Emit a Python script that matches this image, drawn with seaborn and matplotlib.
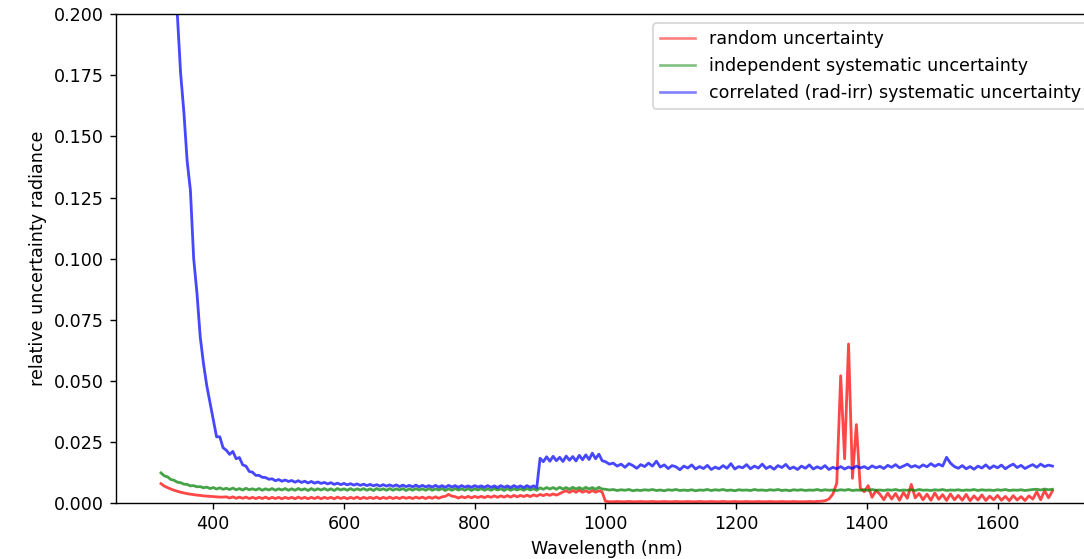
import numpy as np
import pandas as pd
import matplotlib
matplotlib.use('Agg')
import matplotlib.pyplot as plt
import seaborn as sns

# --- Configuration ---
OUTPUT_FILE = 'out.png'
DPI = 126

# --- Wavelength grids (nm): VNIR detector and SWIR detector ---
wl_vnir = np.arange(320, 1000, 5)    # 320 ... 995
wl_swir = np.arange(1000, 1685, 6)   # 1000 ... 1684

LABELS = ['random uncertainty',
          'independent systematic uncertainty',
          'correlated (rad-irr) systematic uncertainty']
COLORS = ['red', 'green', 'blue']

# --- Random uncertainty ---
random_vnir = [
    0.0078, 0.0068, 0.0062, 0.0056, 0.0051, 0.0047, 0.0043, 0.0040, 0.0037, 0.0035,
    0.0033, 0.0031, 0.0030, 0.0028, 0.0027, 0.0026, 0.0025, 0.0024, 0.0023, 0.0023,
    0.0024, 0.0019, 0.0024, 0.0018, 0.0023, 0.0018, 0.0023, 0.0017, 0.0022, 0.0017,
    0.0022, 0.0017, 0.0023, 0.0016, 0.0022, 0.0017, 0.0022, 0.0016, 0.0022, 0.0017,
    0.0022, 0.0016, 0.0023, 0.0017, 0.0022, 0.0016, 0.0022, 0.0017, 0.0023, 0.0016,
    0.0022, 0.0017, 0.0022, 0.0016, 0.0023, 0.0017, 0.0022, 0.0016, 0.0022, 0.0017,
    0.0023, 0.0016, 0.0022, 0.0017, 0.0022, 0.0017, 0.0023, 0.0016, 0.0022, 0.0017,
    0.0023, 0.0017, 0.0022, 0.0017, 0.0023, 0.0018, 0.0022, 0.0017, 0.0023, 0.0018,
    0.0023, 0.0017, 0.0023, 0.0018, 0.0024, 0.0018, 0.0024, 0.0026, 0.0034, 0.0027,
    0.0025, 0.0019, 0.0025, 0.0020, 0.0026, 0.0020, 0.0026, 0.0021, 0.0026, 0.0021,
    0.0027, 0.0022, 0.0028, 0.0022, 0.0028, 0.0023, 0.0029, 0.0023, 0.0030, 0.0024,
    0.0030, 0.0025, 0.0031, 0.0025, 0.0032, 0.0027, 0.0034, 0.0029, 0.0035, 0.0030,
    0.0036, 0.0031, 0.0037, 0.0044, 0.0049, 0.0042, 0.0050, 0.0043, 0.0051, 0.0043,
    0.0049, 0.0042, 0.0050, 0.0043, 0.0049, 0.0044,
]
random_swir = [
    0.0006, 0.0004, 0.0004, 0.0005, 0.0004, 0.0004, 0.0005, 0.0004, 0.0004, 0.0005,
    0.0004, 0.0004, 0.0005, 0.0004, 0.0004, 0.0005, 0.0004, 0.0004, 0.0005, 0.0004,
    0.0004, 0.0005, 0.0004, 0.0004, 0.0005, 0.0004, 0.0004, 0.0005, 0.0004, 0.0004,
    0.0005, 0.0004, 0.0004, 0.0005, 0.0004, 0.0004, 0.0005, 0.0004, 0.0004, 0.0005,
    0.0004, 0.0004, 0.0005, 0.0004, 0.0004, 0.0005, 0.0004, 0.0004, 0.0005, 0.0004,
    0.0004, 0.0004, 0.0005, 0.0004, 0.0005, 0.0006, 0.0008, 0.0015, 0.0035, 0.0080,
    0.0520, 0.0180, 0.0650, 0.0100, 0.0320, 0.0060, 0.0045, 0.0070, 0.0022, 0.0050,
    0.0035, 0.0012, 0.0040, 0.0015, 0.0038, 0.0010, 0.0042, 0.0018, 0.0075, 0.0020,
    0.0038, 0.0012, 0.0035, 0.0010, 0.0040, 0.0014, 0.0033, 0.0009, 0.0036, 0.0012,
    0.0030, 0.0010, 0.0034, 0.0008, 0.0028, 0.0011, 0.0032, 0.0009, 0.0027, 0.0012,
    0.0030, 0.0010, 0.0026, 0.0008, 0.0029, 0.0011, 0.0025, 0.0009, 0.0028, 0.0015,
    0.0045, 0.0012, 0.0050, 0.0020, 0.0048,
]

# --- Independent systematic uncertainty ---
indep_vnir = [
    0.0122, 0.0110, 0.0106, 0.0095, 0.0092, 0.0084, 0.0082, 0.0076, 0.0075, 0.0069,
    0.0070, 0.0065, 0.0066, 0.0061, 0.0064, 0.0058, 0.0062, 0.0056, 0.0061, 0.0055,
    0.0059, 0.0054, 0.0060, 0.0053, 0.0058, 0.0052, 0.0059, 0.0053, 0.0057, 0.0052,
    0.0058, 0.0051, 0.0057, 0.0052, 0.0058, 0.0051, 0.0057, 0.0052, 0.0058, 0.0051,
    0.0057, 0.0051, 0.0058, 0.0052, 0.0057, 0.0050, 0.0058, 0.0051, 0.0057, 0.0052,
    0.0058, 0.0051, 0.0057, 0.0050, 0.0058, 0.0052, 0.0057, 0.0051, 0.0058, 0.0051,
    0.0057, 0.0052, 0.0058, 0.0051, 0.0057, 0.0050, 0.0058, 0.0052, 0.0057, 0.0051,
    0.0058, 0.0051, 0.0057, 0.0052, 0.0058, 0.0050, 0.0057, 0.0051, 0.0058, 0.0052,
    0.0057, 0.0051, 0.0058, 0.0051, 0.0057, 0.0052, 0.0058, 0.0050, 0.0057, 0.0051,
    0.0058, 0.0052, 0.0057, 0.0051, 0.0058, 0.0050, 0.0057, 0.0052, 0.0058, 0.0051,
    0.0057, 0.0051, 0.0058, 0.0052, 0.0057, 0.0050, 0.0058, 0.0051, 0.0057, 0.0052,
    0.0057, 0.0051, 0.0058, 0.0052, 0.0057, 0.0051, 0.0061, 0.0055, 0.0062, 0.0056,
    0.0062, 0.0055, 0.0063, 0.0056, 0.0062, 0.0055, 0.0063, 0.0056, 0.0062, 0.0055,
    0.0063, 0.0056, 0.0062, 0.0055, 0.0063, 0.0056,
]
indep_swir = [
    0.0055, 0.0052, 0.0054, 0.0050, 0.0053, 0.0051, 0.0054, 0.0049, 0.0052, 0.0050,
    0.0053, 0.0051, 0.0054, 0.0050, 0.0052, 0.0049, 0.0053, 0.0051, 0.0054, 0.0050,
    0.0052, 0.0050, 0.0053, 0.0049, 0.0052, 0.0051, 0.0054, 0.0050, 0.0053, 0.0051,
    0.0054, 0.0050, 0.0052, 0.0049, 0.0053, 0.0051, 0.0052, 0.0050, 0.0054, 0.0051,
    0.0052, 0.0050, 0.0053, 0.0051, 0.0054, 0.0050, 0.0052, 0.0049, 0.0053, 0.0051,
    0.0053, 0.0050, 0.0052, 0.0051, 0.0054, 0.0050, 0.0053, 0.0051, 0.0052, 0.0050,
    0.0053, 0.0051, 0.0054, 0.0050, 0.0052, 0.0051, 0.0053, 0.0050, 0.0054, 0.0051,
    0.0052, 0.0050, 0.0053, 0.0051, 0.0054, 0.0050, 0.0052, 0.0051, 0.0053, 0.0050,
    0.0054, 0.0051, 0.0052, 0.0050, 0.0053, 0.0051, 0.0054, 0.0050, 0.0052, 0.0051,
    0.0053, 0.0050, 0.0052, 0.0051, 0.0054, 0.0050, 0.0053, 0.0051, 0.0052, 0.0050,
    0.0053, 0.0051, 0.0054, 0.0050, 0.0052, 0.0051, 0.0053, 0.0050, 0.0052, 0.0054,
    0.0055, 0.0052, 0.0056, 0.0053, 0.0055,
]

# --- Correlated (rad-irr) systematic uncertainty ---
corr_vnir = [
    0.420, 0.360, 0.310, 0.265, 0.232, 0.200, 0.176, 0.160, 0.140, 0.128,
    0.100, 0.086, 0.068, 0.057, 0.048, 0.041, 0.034, 0.027, 0.027, 0.0225,
    0.0215, 0.0198, 0.0210, 0.0180, 0.0185, 0.0155, 0.0150, 0.0128, 0.0125, 0.0112,
    0.0112, 0.0104, 0.0103, 0.0096, 0.0098, 0.0090, 0.0095, 0.0088, 0.0093, 0.0087,
    0.0091, 0.0084, 0.0090, 0.0083, 0.0088, 0.0081, 0.0087, 0.0080, 0.0085, 0.0079,
    0.0083, 0.0077, 0.0082, 0.0075, 0.0080, 0.0074, 0.0079, 0.0073, 0.0078, 0.0072,
    0.0077, 0.0071, 0.0076, 0.0070, 0.0075, 0.0069, 0.0074, 0.0068, 0.0074, 0.0068,
    0.0073, 0.0067, 0.0073, 0.0066, 0.0072, 0.0066, 0.0071, 0.0065, 0.0072, 0.0065,
    0.0071, 0.0065, 0.0070, 0.0064, 0.0071, 0.0064, 0.0070, 0.0063, 0.0071, 0.0064,
    0.0070, 0.0063, 0.0070, 0.0064, 0.0069, 0.0063, 0.0070, 0.0064, 0.0069, 0.0063,
    0.0070, 0.0063, 0.0069, 0.0062, 0.0070, 0.0063, 0.0069, 0.0062, 0.0070, 0.0063,
    0.0069, 0.0062, 0.0070, 0.0063, 0.0069, 0.0062, 0.0182, 0.0168, 0.0188, 0.0170,
    0.0190, 0.0172, 0.0186, 0.0169, 0.0191, 0.0174, 0.0189, 0.0171, 0.0194, 0.0176,
    0.0196, 0.0177, 0.0203, 0.0180, 0.0199, 0.0172,
]
corr_swir = [
    0.0168, 0.0158, 0.0162, 0.0150, 0.0158, 0.0145, 0.0160, 0.0152, 0.0141, 0.0156,
    0.0148, 0.0162, 0.0150, 0.0170, 0.0146, 0.0155, 0.0140, 0.0152, 0.0147, 0.0135,
    0.0150, 0.0142, 0.0155, 0.0138, 0.0148, 0.0140, 0.0153, 0.0136, 0.0146, 0.0139,
    0.0152, 0.0141, 0.0160, 0.0138, 0.0148, 0.0143, 0.0156, 0.0139, 0.0150, 0.0142,
    0.0158, 0.0140, 0.0149, 0.0137, 0.0152, 0.0144, 0.0157, 0.0139, 0.0146, 0.0136,
    0.0150, 0.0141, 0.0155, 0.0138, 0.0147, 0.0140, 0.0152, 0.0136, 0.0145, 0.0139,
    0.0148, 0.0138, 0.0146, 0.0140, 0.0150, 0.0142, 0.0148, 0.0139, 0.0151, 0.0143,
    0.0149, 0.0140, 0.0153, 0.0145, 0.0156, 0.0143, 0.0150, 0.0158, 0.0146, 0.0152,
    0.0144, 0.0155, 0.0147, 0.0160, 0.0149, 0.0158, 0.0150, 0.0186, 0.0162, 0.0148,
    0.0141, 0.0152, 0.0139, 0.0148, 0.0137, 0.0150, 0.0142, 0.0155, 0.0140, 0.0151,
    0.0143, 0.0154, 0.0139, 0.0150, 0.0158, 0.0144, 0.0153, 0.0140, 0.0149, 0.0156,
    0.0145, 0.0158, 0.0148, 0.0154, 0.0150,
]


def build_frame():
    wl = np.concatenate([wl_vnir, wl_swir])
    series = [random_vnir + random_swir,
              indep_vnir + indep_swir,
              corr_vnir + corr_swir]
    frames = []
    for label, values in zip(LABELS, series):
        frames.append(pd.DataFrame({'Wavelength': wl,
                                    'Uncertainty': values,
                                    'Component': label}))
    return pd.concat(frames, ignore_index=True)


def main():
    df = build_frame()

    fig = plt.figure(figsize=(1084 / DPI, 559 / DPI), dpi=DPI)
    # axes run past the right edge, as in the (cropped) original
    ax = fig.add_axes([0.1074, 0.1007, 0.9046, 0.8735])

    sns.lineplot(
        data=df,
        x='Wavelength',
        y='Uncertainty',
        hue='Component',
        hue_order=LABELS,
        palette=dict(zip(LABELS, COLORS)),
        estimator=None,
        sort=False,
        linewidth=1.6,
        alpha=0.72,
        ax=ax,
    )

    ax.set_ylim(0, 0.2)
    ax.set_xlabel('Wavelength (nm)')
    ax.set_ylabel('relative uncertainty radiance')

    handles, labels = ax.get_legend_handles_labels()
    leg = ax.legend(handles, labels, loc='upper right')
    for h in leg.legend_handles:
        h.set_alpha(0.5)
        h.set_linewidth(1.5)

    fig.savefig(OUTPUT_FILE, dpi=DPI)
    plt.close(fig)


if __name__ == '__main__':
    main()
